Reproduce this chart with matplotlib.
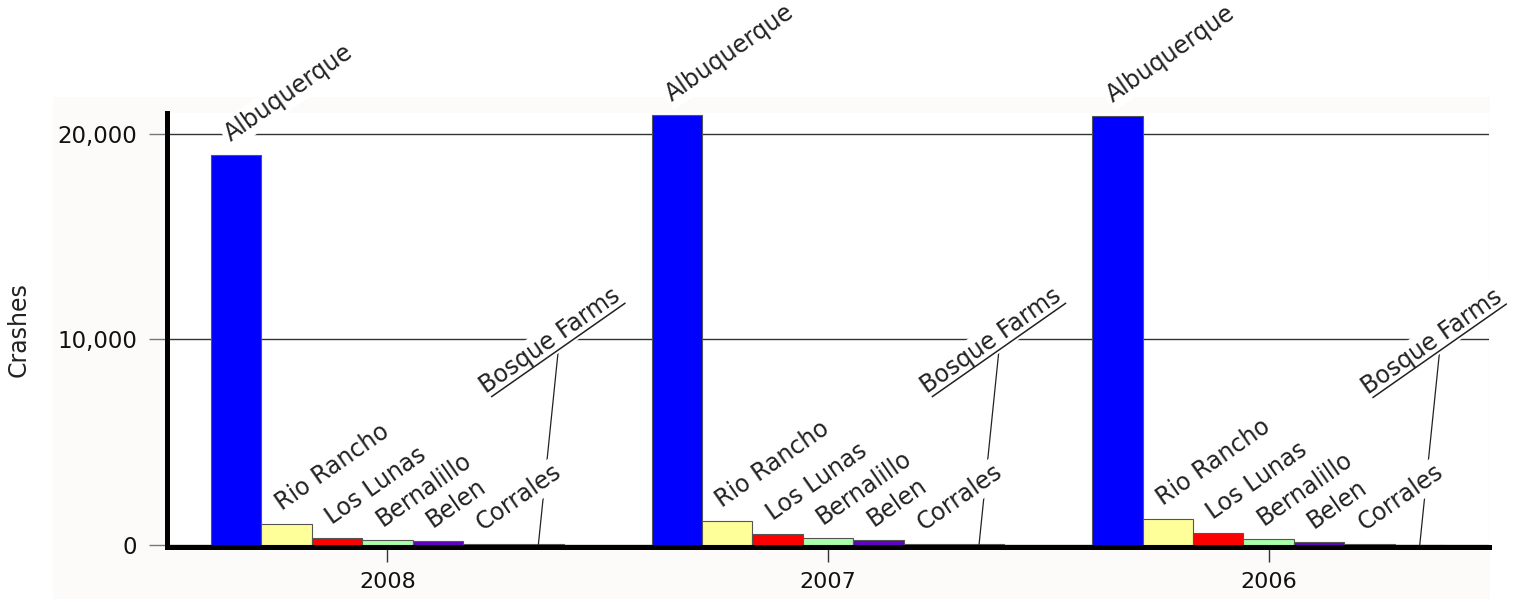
import matplotlib
matplotlib.use('Agg')
import numpy as np
import matplotlib.pyplot as plt
from matplotlib.patches import Rectangle
from matplotlib.lines import Line2D
from matplotlib.ticker import FuncFormatter

years = ['2008', '2007', '2006']
cities = ['Albuquerque', 'Rio Rancho', 'Los Lunas', 'Bernalillo', 'Belen', 'Corrales', 'Bosque Farms']
albuquerque = [18950, 20900, 20850]
rio_rancho = [1020, 1180, 1280]
los_lunas = [330, 520, 570]
bernalillo = [240, 330, 280]
belen = [200, 240, 160]
corrales = [50, 50, 40]
bosque_farms = [40, 40, 0]
colors = ['#0000ff', '#ffff99', '#ff0000', '#aaffaa', '#6000c0', '#006600', '#804000']

series = [albuquerque, rio_rancho, los_lunas, bernalillo, belen, corrales, bosque_farms]

plt.rcParams['font.family'] = ['DejaVu Sans']
DPI = 100
W, H = 1533, 599
k = 72.0 / DPI  # px -> points
LABEL_FS = 17
ROT = 35

fig = plt.figure(figsize=(W / DPI, H / DPI), dpi=DPI)
fig.patch.set_facecolor('white')
fig.patches.append(Rectangle((53 / W, 0), (1490 - 53) / W, (H - 97) / H, transform=fig.transFigure,
                             facecolor='#fcfbf9', edgecolor='none', zorder=-1))
ax = fig.add_axes([167 / W, 1 - 545 / H, (1489 - 167) / W, (545 - 113) / H])
ax.set_facecolor('white')

n = len(cities)
w = 0.8 / n
x = np.arange(len(years))
label_kw = dict(rotation=ROT, rotation_mode='anchor', ha='left', va='baseline', fontsize=LABEL_FS,
                color='#222222', textcoords='offset points', annotation_clip=False, zorder=5,
                bbox=dict(boxstyle='square,pad=0.12', fc='white', ec='none'))

bosque_texts = []
for i, (vals, c) in enumerate(zip(series, colors)):
    xs = x + (i - (n - 1) / 2) * w
    ax.bar(xs, vals, w, color=c, edgecolor='#555555', linewidth=0.8, zorder=2)
    for j in range(len(years)):
        if cities[i] == 'Bosque Farms':
            t = ax.annotate(cities[i], xy=(xs[j], vals[j]), xytext=(-52 * k, 150 * k), **label_kw)
            bosque_texts.append((t, xs[j], vals[j]))
        else:
            ax.annotate(cities[i], xy=(xs[j], vals[j]), xytext=(-5 * k, 13 * k), **label_kw)

ax.set_xlim(-0.5, 2.5)
ax.set_ylim(0, 21000)
ax.set_xticks(x)
ax.set_xticklabels(years)
ax.set_yticks([0, 10000, 20000])
ax.yaxis.set_major_formatter(FuncFormatter(lambda v, p: f'{v:,.0f}'))
ax.set_axisbelow(True)
ax.yaxis.grid(True, color='#333333', linewidth=1.0)
ax.tick_params(axis='y', length=13, width=1, color='#777777', pad=8.5, labelsize=16.5, labelcolor='#111111')
ax.tick_params(axis='x', length=11, width=1, color='#333333', pad=7, labelsize=16, labelcolor='#111111')

for s in ['top', 'right']:
    ax.spines[s].set_visible(False)
for s in ['left', 'bottom']:
    ax.spines[s].set_linewidth(3.6)
    ax.spines[s].set_color('black')
ax.spines['bottom'].set_position(('outward', 1.5))

fig.text(19 / W, 1 - 330 / H, 'Crashes', rotation=90, ha='center', va='center', fontsize=17, color='#222222')

# underline + leader line for Bosque Farms labels
fig.canvas.draw()
renderer = fig.canvas.get_renderer()
ang = np.deg2rad(ROT)
d = np.array([np.cos(ang), np.sin(ang)])
perp = np.array([np.sin(ang), -np.cos(ang)])
tmp = fig.text(0, 0, 'Bosque Farms', fontsize=LABEL_FS)
tw = tmp.get_window_extent(renderer).width
tmp.remove()
inv = ax.transData.inverted()
for t, bx, bv in bosque_texts:
    bar_pt = ax.transData.transform((bx, bv))
    anchor = bar_pt + np.array([-52, 150])
    u0 = anchor + perp * 5 + d * 3
    u1 = anchor + perp * 5 + d * tw
    mid = (u0 + u1) / 2
    q = inv.transform([u0, u1])
    ax.add_line(Line2D(q[:, 0], q[:, 1], color='#222222', linewidth=1.1, zorder=6, clip_on=False))
    q = inv.transform([mid, bar_pt])
    ax.add_line(Line2D(q[:, 0], q[:, 1], color='#222222', linewidth=0.9, zorder=4, clip_on=False))

fig.savefig('out.png', dpi=DPI, facecolor=fig.get_facecolor())
